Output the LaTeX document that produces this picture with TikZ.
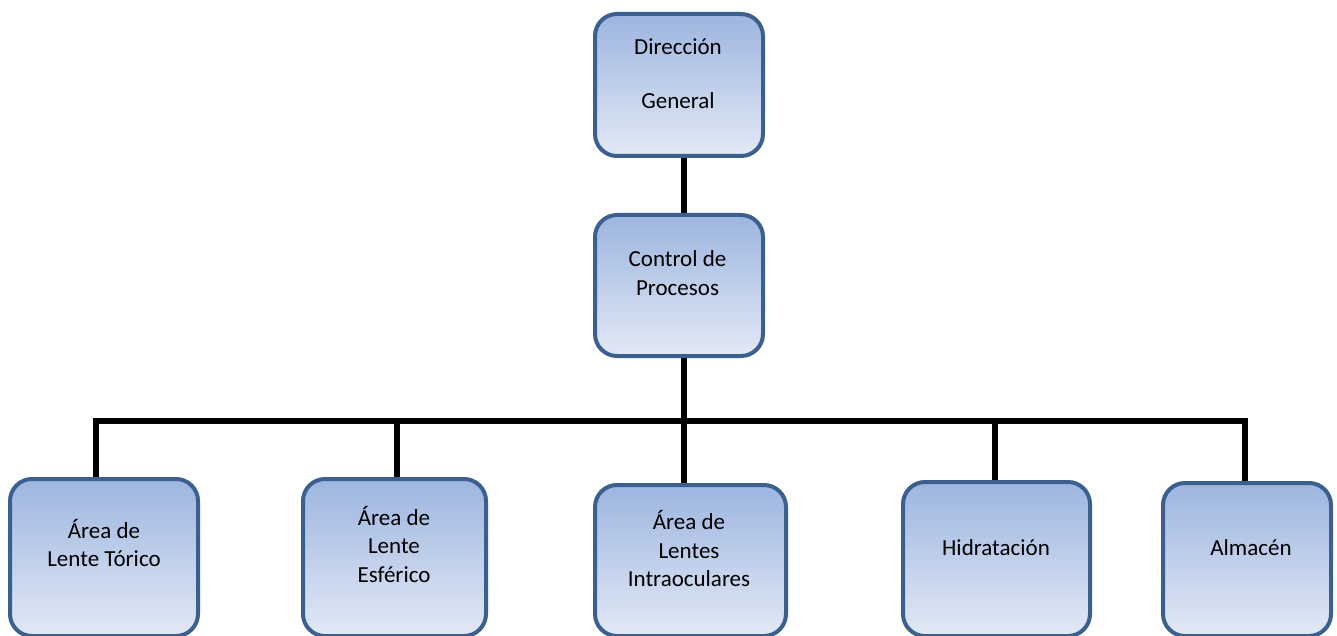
\documentclass[tikz,border=0pt]{standalone}
\usepackage{fontspec}
\setmainfont{Carlito}
\usetikzlibrary{backgrounds}
\definecolor{boxborder}{HTML}{3B5F8E}
\definecolor{boxtop}{HTML}{9DB5E0}
\definecolor{boxbot}{HTML}{E2E9F5}
\begin{document}
\begin{tikzpicture}[x=1pt,y=-1pt,
  orgbox/.style={draw=boxborder, line width=4pt, rounded corners=22pt,
    top color=boxtop, bottom color=boxbot, inner sep=0pt, outer sep=0pt},
  lbl/.style={align=center, font=\fontsize{23}{28.5}\selectfont, inner sep=0pt, text=black},
  conn/.style={line width=6pt, draw=black}]
\useasboundingbox (0,0) rectangle (1337,636);
% boxes
\node[orgbox, minimum width=168pt, minimum height=142pt] (dg) at (679,85) {};
\node[orgbox, minimum width=168pt, minimum height=141pt] (cp) at (679,285.5) {};
\node[orgbox, minimum width=188pt, minimum height=157pt] (b1) at (104,557.5) {};
\node[orgbox, minimum width=183pt, minimum height=157pt] (b2) at (394.5,557.5) {};
\node[orgbox, minimum width=191pt, minimum height=151pt] (b3) at (690.5,560.5) {};
\node[orgbox, minimum width=187pt, minimum height=154pt] (b4) at (996.5,559) {};
\node[orgbox, minimum width=168pt, minimum height=153pt] (b5) at (1247,559.5) {};
% texts
\node[lbl] (tdg) at (678,76.3) {\strut Dirección\\[25.5pt]\strut General};
\node[lbl] (tcp) at (677.5,275.3) {\strut Control de\\\strut Procesos};
\node[lbl] (t1) at (104,546.8) {\strut Área de\\\strut Lente Tórico};
\node[lbl] (t2) at (394,547.8) {\strut Área de\\\strut Lente\\\strut Esférico};
\node[lbl] (t3) at (689,552.3) {\strut Área de\\\strut Lentes\\\strut Intraoculares};
\node[lbl] (t4) at (996,549.3) {\strut Hidratación};
\node[lbl] (t5) at (1251,549.3) {\strut Almacén};
% bus coordinates
\coordinate (j1) at (96,421);
\coordinate (j2) at (397,421);
\coordinate (j3) at (684,421);
\coordinate (j4) at (995,421);
\coordinate (j5) at (1245,421);
\begin{pgfonlayer}{background}
\draw[conn] (j3 |- dg.south) -- (j3 |- cp.north);
\draw[conn] (j3 |- cp.south) -- (j3) -- (j3 |- b3.north);
\draw[conn] (j1 |- b1.north) -- (j1) -- (j5) -- (j5 |- b5.north);
\draw[conn] (j2) -- (j2 |- b2.north);
\draw[conn] (j4) -- (j4 |- b4.north);
\end{pgfonlayer}
\end{tikzpicture}
\end{document}
